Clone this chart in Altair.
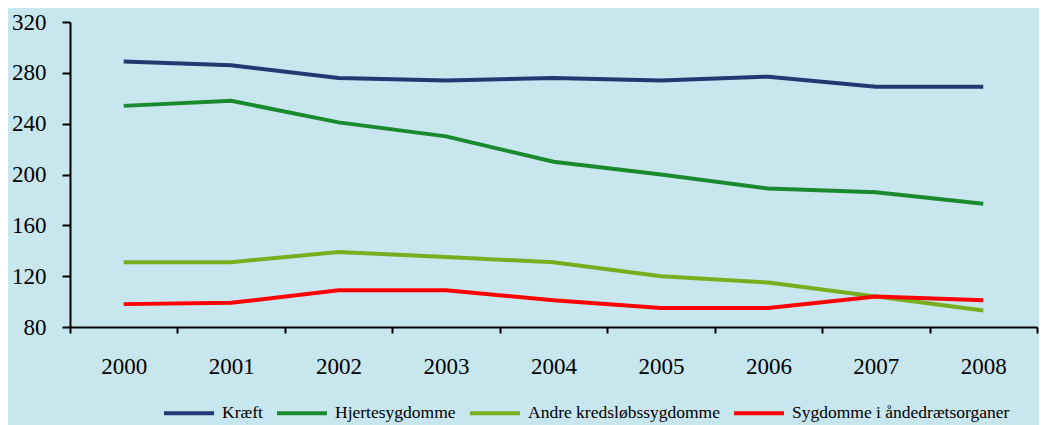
import altair as alt
import pandas as pd

years = ["2000", "2001", "2002", "2003", "2004", "2005", "2006", "2007", "2008"]
series_names = ["Kræft", "Hjertesygdomme", "Andre kredsløbssygdomme", "Sygdomme i åndedrætsorganer"]
kraeft = [289, 286, 276, 274, 276, 274, 277, 269, 269]
hjerte = [254, 258, 241, 230, 210, 200, 189, 186, 177]
andre = [131, 131, 139, 135, 131, 120, 115, 104, 93]
sygd = [98, 99, 109, 109, 101, 95, 95, 104, 101]
colors = ["#1f3a73", "#1a8a2e", "#7aad1e", "#ff0000"]

rows = []
for name, vals in zip(series_names, [kraeft, hjerte, andre, sygd]):
    for y, v in zip(years, vals):
        rows.append({"year": y, "value": v, "series": name})
df = pd.DataFrame(rows)

font = "Liberation Serif"

chart = alt.Chart(df).mark_line(strokeWidth=4).encode(
    x=alt.X("year:O", bandPosition=0.5,
            scale=alt.Scale(type="band", paddingInner=0, paddingOuter=0),
            axis=alt.Axis(title=None, labelAngle=0, tickBand="extent", labelFont=font,
                          labelFontSize=23, labelColor="black", tickColor="black",
                          domainColor="black", domainWidth=2, tickWidth=2, tickSize=6,
                          labelPadding=22, grid=False)),
    y=alt.Y("value:Q", scale=alt.Scale(domain=[80, 320], nice=False, zero=False),
            axis=alt.Axis(title=None, values=[80, 120, 160, 200, 240, 280, 320],
                          labelFont=font, labelFontSize=23, labelColor="black",
                          tickColor="black", domainColor="black", domainWidth=2,
                          tickWidth=2, tickSize=8, labelPadding=16, grid=False)),
    color=alt.Color("series:N", sort=series_names,
                    scale=alt.Scale(domain=series_names, range=colors),
                    legend=alt.Legend(title=None, orient="none", direction="horizontal",
                                      legendX=92, legendY=364,
                                      symbolType="stroke", symbolSize=2500,
                                      symbolStrokeWidth=4, labelFont=font,
                                      labelFontSize=17.5, labelColor="black",
                                      labelLimit=400,
                                      columnPadding=6, labelOffset=6, padding=0)),
).properties(
    width=967, height=305, background="#c8e6ee",
    padding={"left": 62, "top": 14, "right": 2, "bottom": 98},
    autosize=alt.AutoSizeParams(type="none"),
).configure_view(stroke=None)

chart.save("out.html", embed_options={"renderer": "svg", "actions": False})
